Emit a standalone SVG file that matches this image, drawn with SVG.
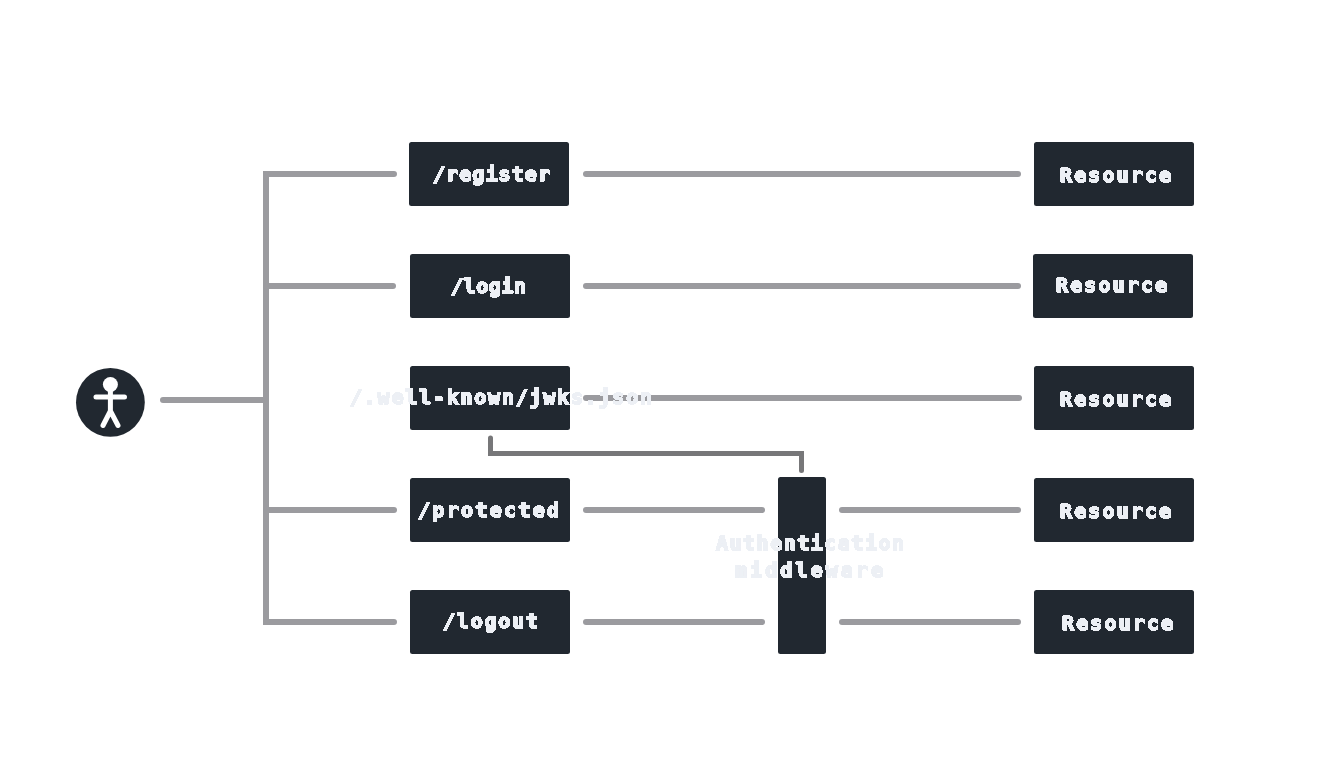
<svg xmlns="http://www.w3.org/2000/svg" width="1344" height="768" viewBox="0 0 1344 768">
<style>
.box{fill:#212830}
.lbl{font-family:"DejaVu Sans Mono","Liberation Mono",monospace;font-weight:700;font-size:20px;fill:#edf0f5;stroke:#edf0f5;stroke-width:1.300;filter:url(#px)}
.ln{fill:none;stroke:#9b9b9f;stroke-width:6;stroke-linecap:round;stroke-linejoin:miter}
.dk{fill:none;stroke:#777779;stroke-width:5;stroke-linecap:round;stroke-linejoin:miter}
.fig{fill:none;stroke:#fff;stroke-width:5;stroke-linecap:round;stroke-linejoin:round}
</style>
<defs>
<filter id="px" x="-5%" y="-20%" width="110%" height="140%" color-interpolation-filters="sRGB">
<feComponentTransfer><feFuncA type="discrete" tableValues="0 1 1"/></feComponentTransfer>
</filter>
</defs>
<rect width="1344" height="768" fill="#fff"/>
<g id="connectors">
<path class="ln" d="M163 400H266"/>
<path class="ln" d="M394 174H266V622H394"/>
<path class="ln" d="M266 286H393"/>
<path class="ln" d="M266 510H394"/>
<path class="ln" d="M586 174H1018"/>
<path class="ln" d="M586 286H1018"/>
<path class="ln" d="M586 398H1019"/>
<path class="ln" d="M586 510H762"/>
<path class="ln" d="M842 510H1018"/>
<path class="ln" d="M586 622H762"/>
<path class="ln" d="M842 622H1018"/>
<path class="dk" d="M490.500 438V453.500H801.500V470.500"/>
</g>
<g id="user">
<circle cx="110.400" cy="402.400" r="34.400" fill="#212830"/>
<circle cx="110.400" cy="384.500" r="7.500" fill="#fff"/>
<path class="fig" d="M96 397H124.500M110.400 390V411M110.400 411L103 425.500M110.400 411L118 425.500"/>
</g>
<g id="register"><rect class="box" x="409" y="142" width="160" height="64" rx="2.500"/><text class="lbl" x="433" y="181" textLength="117">/register</text></g>
<g id="login"><rect class="box" x="410" y="254" width="160" height="64" rx="2.500"/><text class="lbl" x="451" y="293" textLength="75">/login</text></g>
<g id="jwks"><rect class="box" x="410" y="366" width="160" height="64" rx="2.500"/><text class="lbl" x="350" y="404" textLength="302">/.well-known/jwks.json</text></g>
<g id="protected"><rect class="box" x="410" y="478" width="160" height="64" rx="2.500"/><text class="lbl" x="418" y="517" textLength="141">/protected</text></g>
<g id="logout"><rect class="box" x="410" y="590" width="160" height="64" rx="2.500"/><text class="lbl" x="443" y="628" textLength="95">/logout</text></g>
<g id="middleware"><rect class="box" x="778" y="477" width="48" height="177" rx="2.500"/><text class="lbl" x="716" y="550" textLength="188">Authentication</text><text class="lbl" x="735" y="577" textLength="148">middleware</text></g>
<g id="resource1"><rect class="box" x="1034" y="142" width="160" height="64" rx="2.500"/><text class="lbl" x="1060" y="182" textLength="111">Resource</text></g>
<g id="resource2"><rect class="box" x="1033" y="254" width="160" height="64" rx="2.500"/><text class="lbl" x="1056" y="292" textLength="111">Resource</text></g>
<g id="resource3"><rect class="box" x="1034" y="366" width="160" height="64" rx="2.500"/><text class="lbl" x="1060" y="406" textLength="111">Resource</text></g>
<g id="resource4"><rect class="box" x="1034" y="478" width="160" height="64" rx="2.500"/><text class="lbl" x="1060" y="518" textLength="111">Resource</text></g>
<g id="resource5"><rect class="box" x="1034" y="590" width="160" height="64" rx="2.500"/><text class="lbl" x="1062" y="630" textLength="111">Resource</text></g>
</svg>
